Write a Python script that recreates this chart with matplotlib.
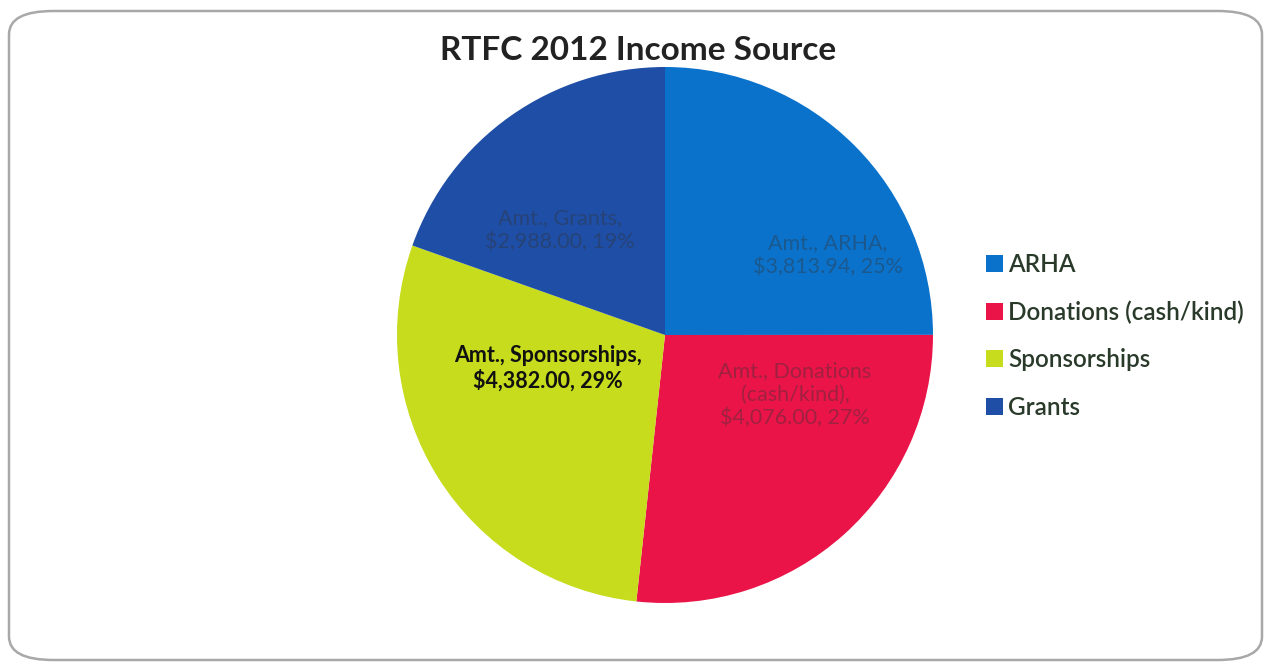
import matplotlib.pyplot as plt
from matplotlib.patches import FancyBboxPatch, Patch

# datos del grafico
fuentes = ['ARHA', 'Donations (cash/kind)', 'Sponsorships', 'Grants']
montos = [3813.94, 4076.00, 4382.00, 2988.00]
etiquetas = ['Amt., ARHA,\n$3,813.94, 25%',
             'Amt., Donations\n(cash/kind),\n$4,076.00, 27%',
             'Amt., Sponsorships,\n$4,382.00, 29%',
             'Amt., Grants,\n$2,988.00, 19%']
colores = ['#0b72cc', '#ea1449', '#c6dc1c', '#1f4ea6']

plt.rcParams['font.family'] = ['Lato', 'DejaVu Sans']

W, H = 1271, 669
fig = plt.figure(figsize=(W/100, H/100), dpi=100)

# marco redondeado
marco = FancyBboxPatch((9/W, 9/H), 1-18/W, 1-20/H,
                       boxstyle='round,pad=0,rounding_size=0.035',
                       transform=fig.transFigure, fc='none', ec='#a8a8a8', lw=1.8)
fig.patches.append(marco)

cx, cy, r = 665, 335, 268
ax = fig.add_axes([(cx-r)/W, (H-cy-r)/H, 2*r/W, 2*r/H])
wedges, _ = ax.pie(montos, colors=colores, startangle=90, counterclock=False,
                   radius=1, wedgeprops=dict(linewidth=0))
ax.set_xlim(-1, 1)
ax.set_ylim(-1, 1)
ax.set_aspect('equal')
ax.axis('off')

# posicion de etiquetas (px relativos al centro)
pos = [(163, 80), (130, -60), (-117, -33), (-105, 105)]
for i, (dx, dy) in enumerate(pos):
    if i == 2:
        ax.text(dx/r, dy/r, etiquetas[i], ha='center', va='center',
                fontsize=15.5, color='#111111', fontweight='bold', linespacing=1.2)
    else:
        ax.text(dx/r, dy/r, etiquetas[i], ha='center', va='center',
                fontsize=15.5, color='#333333', alpha=0.4, linespacing=1.2)

fig.text(0.5 + 3/W, 1 - 50/H, 'RTFC 2012 Income Source', ha='center', va='center',
         fontsize=24, fontweight='bold', color='#222222')

handles = [Patch(fc=c, ec='none') for c in colores]
leg = fig.legend(handles, fuentes, loc='center left', bbox_to_anchor=(974/W, 1 - 336/H),
                 frameon=False, fontsize=17.5, labelspacing=1.0, handlelength=0.7,
                 handleheight=0.7, handletextpad=0.2, borderpad=0)
for t in leg.get_texts():
    t.set_color('#2a3a2a')
    t.set_fontweight('semibold')

fig.savefig('out.png', dpi=100)
